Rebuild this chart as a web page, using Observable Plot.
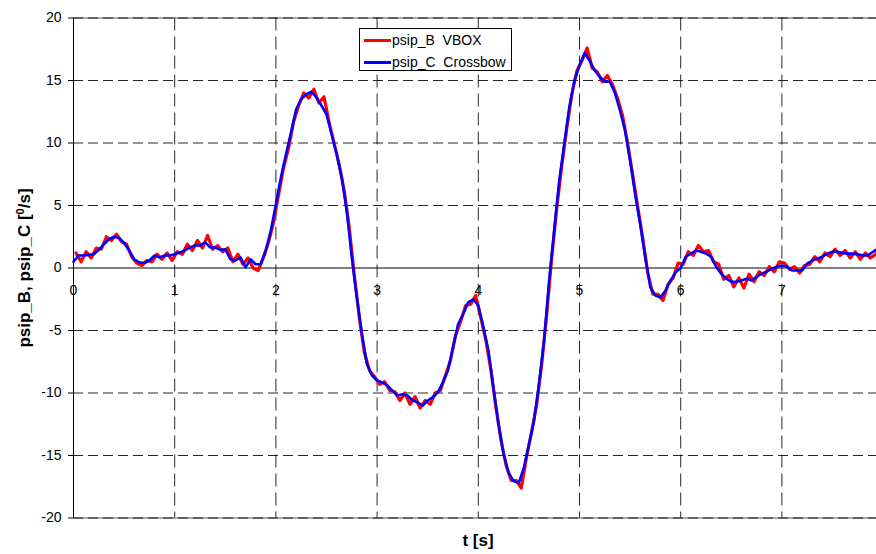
<!DOCTYPE html>
<html>
<head>
<meta charset="utf-8">
<script src="https://cdn.jsdelivr.net/npm/d3@7"></script>
<script src="https://cdn.jsdelivr.net/npm/@observablehq/plot@0.6"></script>
<style>
  html, body { margin: 0; padding: 0; background: #fff; overflow: hidden; }
  #wrap { position: relative; width: 876px; height: 554px; font-family: "Liberation Sans", Arial, sans-serif; }
  #legend { position: absolute; left: 359px; top: 28px; width: 151px; height: 41px; border: 1px solid #000; background: #fff; font-size: 14px; color: #000; }
  .row { position: absolute; left: 4px; height: 16px; line-height: 16px; white-space: pre; }
  .sw { display: inline-block; width: 27px; height: 3px; vertical-align: middle; margin-right: 1px; position: relative; top: -1px; }
</style>
</head>
<body>
<div id="wrap"></div>
<script>
// sample times: t = t0 + i*dt
const dt = 0.05;
const blueStart = 0.0;
const redStart = 0.025;

// psip_C Crossbow (blue)
const psipC = [
  0.5, 1.0, 1.0, 1.05, 1.1, 1.45, 1.9, 2.3, 2.5, 2.4,
  2.0, 1.4, 0.7, 0.45, 0.4, 0.6, 1.0, 0.85, 1.0, 1.0,
  1.1, 1.25, 1.4, 1.65, 1.8, 1.8, 2.05, 1.65, 1.65, 1.45,
  1.5, 0.7, 0.6, 0.85, 0.05, 0.7, 0.3, 0.3, 1.4, 3.0,
  5.1, 7.25, 9.1, 10.85, 12.7, 13.5, 13.9, 14.1, 13.65, 13.0,
  12.3, 10.7, 9.1, 7.25, 4.6, 0.85, -2.35, -5.3, -7.7, -8.6,
  -9.0, -9.15, -9.4, -9.8, -10.2, -10.1, -10.2, -10.6, -10.75, -11.0,
  -10.6, -10.35, -9.95, -9.15, -8.2, -6.35, -4.5, -3.7, -2.75, -2.5,
  -3.0, -4.7, -6.6, -9.6, -12.5, -14.9, -16.4, -17.05, -17.2, -16.0,
  -14.1, -12.25, -9.3, -5.8, -1.0, 3.0, 7.0, 9.95, 12.9, 15.0,
  16.2, 17.2, 16.6, 15.8, 15.3, 14.9, 14.9, 14.0, 12.6, 11.0,
  8.6, 5.9, 3.5, 0.85, -1.55, -2.2, -2.35, -1.8, -1.0, -0.35,
  0.0, 0.9, 1.15, 1.4, 1.3, 1.15, 0.9, 0.1, -0.45, -0.85,
  -1.1, -1.1, -1.0, -0.85, -1.0, -0.7, -0.45, -0.3, -0.05, 0.1,
  0.2, 0.1, -0.2, -0.2, -0.2, 0.35, 0.6, 0.75, 0.9, 1.15,
  1.3, 1.3, 1.2, 1.15, 1.15, 1.1, 1.0, 1.0, 1.3, 1.55
];

// psip_B VBOX (red)
const psipB = [
  1.2, 0.5, 1.3, 0.8, 1.6, 1.5, 2.5, 2.2, 2.7, 2.1,
  1.9, 0.9, 0.4, 0.2, 0.6, 0.5, 1.1, 0.7, 1.2, 0.6,
  1.3, 1.1, 1.9, 1.4, 2.2, 1.6, 2.6, 1.5, 1.8, 1.3,
  1.6, 0.5, 1.1, 0.3, 0.8, 0.0, -0.2, 0.8, 2.0, 3.6,
  5.8, 8.0, 9.6, 11.7, 13.0, 14.0, 13.6, 14.3, 13.2, 13.7,
  11.7, 10.0, 8.3, 6.2, 3.2, -0.6, -4.0, -6.8, -8.2, -8.7,
  -9.3, -9.1, -9.8, -9.9, -10.6, -10.0, -10.9, -10.3, -11.2, -10.6,
  -10.9, -10.0, -9.8, -8.6, -7.4, -5.4, -4.3, -3.0, -2.9, -2.2,
  -4.0, -5.8, -8.2, -11.2, -13.8, -15.8, -17.0, -17.0, -17.6, -15.2,
  -13.2, -11.0, -7.8, -3.8, 0.8, 4.8, 8.2, 11.2, 13.9, 15.8,
  16.6, 17.6, 16.0, 15.7, 14.9, 15.4, 14.7, 13.6, 12.2, 10.0,
  7.5, 4.9, 2.4, -0.4, -2.1, -2.1, -2.6, -1.3, -0.8, 0.4,
  0.3, 1.3, 1.0, 1.8, 1.3, 1.4, 0.5, 0.3, -0.9, -0.6,
  -1.5, -0.8, -1.6, -0.5, -1.1, -0.3, -0.6, 0.1, -0.3, 0.5,
  0.4, -0.1, 0.1, -0.4, 0.2, 0.3, 0.9, 0.5, 1.2, 0.9,
  1.5, 1.0, 1.4, 0.8, 1.3, 0.7, 1.2, 0.8, 1.1, 1.8
];

const xTicks = [0, 1, 2, 3, 4, 5, 6, 7];
const xGrid = [1, 2, 3, 4, 5, 6, 7];
const yTicks = [-20, -15, -10, -5, 0, 5, 10, 15, 20];
const yGrid = [-20, -15, -10, -5, 5, 10, 15, 20];
const seriesNames = ["psip_B  VBOX", "psip_C  Crossbow"];
const seriesColors = ["#ff0000", "#0000ff"];
const xTitle = "t [s]";
const yTitle = "psip_B, psip_C [⁰/s]";

const red = psipB.map((v, i) => ({t: redStart + i * dt, v}));
const blue = psipC.map((v, i) => ({t: blueStart + i * dt, v}));

const font = "'Liberation Sans', Arial, sans-serif";

const chart = Plot.plot({
  width: 876,
  height: 554,
  marginLeft: 73,
  marginRight: 0,
  marginTop: 17.5,
  marginBottom: 36.5,
  x: {domain: [0, 8], range: [73, 882.6], axis: null},
  y: {domain: [-20, 20], axis: null},
  style: {fontFamily: font, fontSize: "14px", background: "#fff", color: "#000"},
  marks: [
    Plot.ruleY([-20, 20], {stroke: "#8c8c8c", strokeWidth: 1.5}),
    Plot.gridY(yGrid, {stroke: "#000", strokeOpacity: 0.85, strokeDasharray: "10,5"}),
    Plot.gridX(xGrid, {stroke: "#000", strokeOpacity: 0.85, strokeDasharray: "13,6"}),
    Plot.ruleY([0], {stroke: "#000", strokeWidth: 1}),
    Plot.ruleX([0], {y1: -20, y2: 20, stroke: "#000", strokeWidth: 1}),
    Plot.axisY(yTicks, {tickSize: 5, tickPadding: 7, fontSize: 14, stroke: "#000", label: null, tickFormat: d => String(d)}),
    Plot.text(xTicks, {x: d => d, y: 0, dy: 23, text: d => String(d), fontSize: 14, fill: "#000"}),
    Plot.line(red, {x: "t", y: "v", stroke: seriesColors[0], strokeWidth: 3.2, strokeLinejoin: "round"}),
    Plot.line(blue, {x: "t", y: "v", stroke: seriesColors[1], strokeWidth: 2.6, strokeLinejoin: "round"}),
    Plot.text([xTitle], {frameAnchor: "bottom", textAnchor: "middle", dx: 3, dy: 28, text: d => d, fontSize: 17, fontWeight: "bold", fill: "#000"}),
    Plot.text([yTitle], {frameAnchor: "left", textAnchor: "middle", dx: -49, rotate: -90, text: d => d, fontSize: 17, fontWeight: "bold", fill: "#000"})
  ]
});

// superscript in y title
const ns = "http://www.w3.org/2000/svg";
const lab = [...chart.querySelectorAll("text")].find(t => t.textContent === yTitle);
if (lab) {
  lab.textContent = "";
  lab.setAttribute("text-anchor", "middle");
  lab.append(document.createTextNode("psip_B, psip_C ["));
  const sup = document.createElementNS(ns, "tspan");
  sup.setAttribute("dy", "-6");
  sup.setAttribute("font-size", "11");
  sup.textContent = "0";
  const rest = document.createElementNS(ns, "tspan");
  rest.setAttribute("dy", "6");
  rest.textContent = "/s]";
  lab.append(sup, rest);
}

const wrap = document.getElementById("wrap");
wrap.appendChild(chart);

// legend
const legend = document.createElement("div");
legend.id = "legend";
seriesNames.forEach((name, i) => {
  const row = document.createElement("div");
  row.className = "row";
  row.style.top = (i === 0 ? 3 : 25) + "px";
  const sw = document.createElement("span");
  sw.className = "sw";
  sw.style.background = seriesColors[i];
  row.appendChild(sw);
  row.appendChild(document.createTextNode(name));
  legend.appendChild(row);
});
wrap.appendChild(legend);
</script>
</body>
</html>
